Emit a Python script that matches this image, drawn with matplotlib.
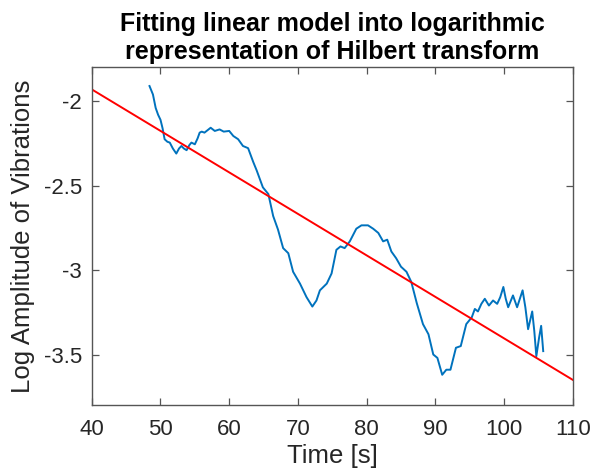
import matplotlib
matplotlib.use("Agg")
import matplotlib.pyplot as plt
import numpy as np

plt.rcParams['font.family'] = ['Liberation Sans', 'DejaVu Sans']

# Log amplitude of Hilbert transform
time_s = [48.4, 48.9, 49.3, 49.65, 50.0, 50.3, 50.6, 51.0, 51.35, 51.8, 52.3, 52.7, 53.05,
          53.4, 53.8, 54.2, 54.5, 55.0, 55.4, 55.7, 56.0, 56.4,
          56.9, 57.3, 57.9, 58.6, 59.2, 60.0, 60.6, 61.3, 62.0, 62.75, 63.5, 64.0, 64.9,
          65.7, 66.4, 67.1, 67.85, 68.6, 69.3, 70.3, 71.25, 72.1, 72.7, 73.2, 74.2,
          74.9, 75.6, 76.2, 76.8, 77.55, 78.5, 79.25, 80.2, 80.95, 81.7, 82.4, 83.0,
          83.6, 84.3, 85.0, 85.8, 86.5, 87.3, 88.2, 89.0, 89.7, 90.3, 91.0, 91.6,
          92.2, 93.0, 93.7, 94.5, 95.3, 95.75, 96.2, 96.7, 97.2, 97.8, 98.4, 99.0, 99.45, 99.9,
          100.25, 100.6, 101.3, 101.9, 102.3, 102.7, 103.1, 103.5, 104.1, 104.4, 104.7, 105.1, 105.4, 105.7]
log_amp = [-1.91, -1.96, -2.04, -2.08, -2.11, -2.16, -2.225, -2.24, -2.245, -2.28, -2.31, -2.28, -2.265,
           -2.28, -2.29, -2.26, -2.245, -2.255, -2.22, -2.186, -2.18, -2.186,
           -2.17, -2.157, -2.176, -2.167, -2.18, -2.176, -2.206, -2.225, -2.265, -2.278, -2.36, -2.41, -2.51,
           -2.55, -2.68, -2.76, -2.87, -2.90, -3.01, -3.08, -3.16, -3.216, -3.18, -3.12, -3.08,
           -3.02, -2.88, -2.86, -2.87, -2.83, -2.755, -2.735, -2.735, -2.755, -2.78, -2.83, -2.82,
           -2.89, -2.93, -2.98, -3.01, -3.07, -3.196, -3.32, -3.38, -3.5, -3.52, -3.62, -3.59,
           -3.59, -3.46, -3.45, -3.32, -3.28, -3.23, -3.245, -3.2, -3.17, -3.21, -3.18, -3.2, -3.16, -3.1,
           -3.17, -3.22, -3.15, -3.22, -3.17, -3.12, -3.22, -3.35, -3.245, -3.36, -3.51, -3.4, -3.33, -3.48]

# Linear fit line endpoints
fit_t = [40, 110]
fit_y = [-1.93, -3.65]

xticks = [40, 50, 60, 70, 80, 90, 100, 110]
yticks = [-3.5, -3, -2.5, -2]
ytick_labels = ['-3.5', '-3', '-2.5', '-2']

fig = plt.figure(figsize=(5.96, 4.75), dpi=100)
ax = fig.add_axes([0.154, 0.147, 0.807, 0.711])

ax.plot(time_s, log_amp, color='#0072BD', lw=1.4)
ax.plot(fit_t, fit_y, color='#FF0000', lw=1.4)

ax.set_xlim(40, 110)
ax.set_ylim(-3.8, -1.8)
ax.set_xticks(xticks)
ax.set_xticklabels([str(v) for v in xticks])
ax.set_yticks(yticks)
ax.set_yticklabels(ytick_labels)

for s in ax.spines.values():
    s.set_color('#555555')
    s.set_linewidth(1.0)
ax.tick_params(direction='in', top=True, right=True, length=5, width=0.9,
               colors='#555555', labelcolor='#262626', labelsize=16)
ax.tick_params(axis='x', pad=10)
ax.tick_params(axis='y', pad=7)

ax.set_xlabel('Time [s]', fontsize=18.5, color='#262626', labelpad=3)
ax.set_ylabel('Log Amplitude of Vibrations', fontsize=18.5, color='#262626', labelpad=6)
ax.set_title('Fitting linear model into logarithmic\nrepresentation of Hilbert transform',
             fontsize=18, fontweight='bold', color='black', pad=6, linespacing=1.22)

fig.savefig('out.png', dpi=100)
